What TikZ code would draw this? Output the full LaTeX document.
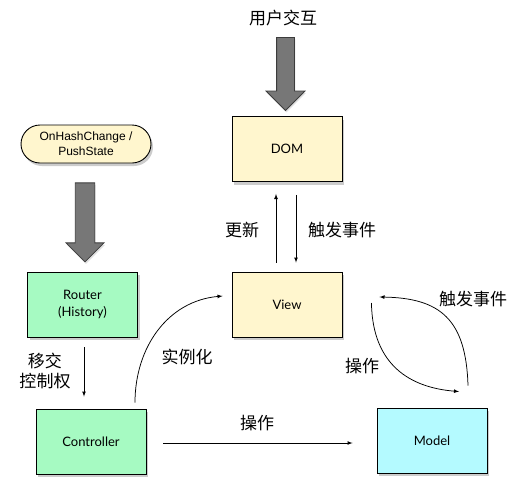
\documentclass[tikz,border=0pt]{standalone}
\usepackage{fontspec}
\setmainfont{Lato}
\newfontfamily\cjk{Noto Sans CJK SC}
\newfontfamily\helv{Liberation Sans}
\usetikzlibrary{arrows, shapes.arrows, shadows}

\definecolor{paleyellow}{RGB}{255,246,206}
\definecolor{palegreen}{RGB}{166,250,194}
\definecolor{palecyan}{RGB}{180,250,255}
\definecolor{arrowgray}{RGB}{119,119,119}
\definecolor{arrowedge}{RGB}{60,60,60}

\tikzset{
  box/.style={draw, line width=0.9pt, minimum width=110pt, minimum height=65pt, align=center,
    font=\fontsize{13}{17}\selectfont,
    drop shadow={shadow xshift=2pt, shadow yshift=-3pt, opacity=.4}},
  lbl/.style={font=\cjk\fontsize{17}{20}\selectfont, inner sep=0pt},
  link/.style={->, line width=.75pt},
  bigarrow/.style={single arrow, draw=arrowedge, fill=arrowgray, line width=.8pt,
    inner xsep=8.5pt, inner ysep=0pt,
    minimum height=73pt, minimum width=38pt, single arrow head extend=10.5pt,
    single arrow head indent=0pt, shape border rotate=270,
    drop shadow={shadow xshift=1pt, shadow yshift=-2pt, opacity=.25}}
}

\begin{document}
\begin{tikzpicture}[>=latex, x=1pt, y=-1pt]
\useasboundingbox (0,0) rectangle (521,498);

% boxes
\node[box, fill=paleyellow] (dom) at (287,149) {DOM};
\node[box, fill=paleyellow] (view) at (287,304.5) {View};
\node[box, fill=palegreen] (router) at (82.5,304.5) {Router\\(History)};
\node[box, fill=palegreen] (controller) at (91,441.5) {Controller};
\node[box, fill=palecyan] (model) at (432,440.5) {Model};
\node[draw, line width=0.9pt, fill=paleyellow, rounded corners=19pt, minimum width=130pt, minimum height=38pt,
  align=center, font=\helv\fontsize{12}{15}\selectfont,
  drop shadow={shadow xshift=2pt, shadow yshift=-3pt, opacity=.4}] (hash) at (86,144) {OnHashChange /\\PushState};

% big arrows
\node[lbl] (user) at (283,18) {用户交互};
\node[bigarrow] (userarrow) at (285.5,69.5) {};
\node[bigarrow, minimum height=79pt, inner xsep=9pt, single arrow head extend=9pt] (hasharrow) at (85,217.5) {};

% dom / view
\draw[link, shorten <=9pt, shorten >=12pt] ([xshift=-11pt]view.north) -- ([xshift=-11pt]dom.south);
\draw[link, shorten <=13pt, shorten >=9pt] ([xshift=9pt]dom.south) -- ([xshift=9pt]view.north);
\node[lbl] at (242,230) {更新};
\node[lbl] at (342,230) {触发事件};

% router -> controller
\draw[link, shorten <=10pt, shorten >=12pt] ([xshift=1.5pt]router.south) -- ([xshift=1.5pt]router.south |- controller.north);
\node[lbl, align=center, font=\cjk\fontsize{17}{20}\selectfont] at (45,371) {移交\\控制权};

% controller -> view, controller -> model
\draw[link] ([xshift=44pt, yshift=6pt]controller.north) .. controls +(0,-55) and +(-55,5) .. ([xshift=-9pt, yshift=8.5pt]view.west);
\node[lbl] at (187,357) {实例化};
\draw[link, shorten <=17pt, shorten >=24pt] ([yshift=-1.5pt]controller.east) -- ([yshift=-2.5pt]model.west);
\node[lbl] at (257,423) {操作};

% view <-> model
\draw[link] ([xshift=29pt, yshift=1.5pt]view.east) .. controls +(1,62) and +(-49,-4) .. ([xshift=27pt, yshift=16pt]model.north);
\node[lbl] at (362,366) {操作};
\draw[link] ([xshift=36pt, yshift=22pt]model.north) .. controls +(-2,-66) and +(61,1) .. ([xshift=37pt, yshift=7.5pt]view.east);
\node[lbl] at (473,299) {触发事件};

\end{tikzpicture}
\end{document}
